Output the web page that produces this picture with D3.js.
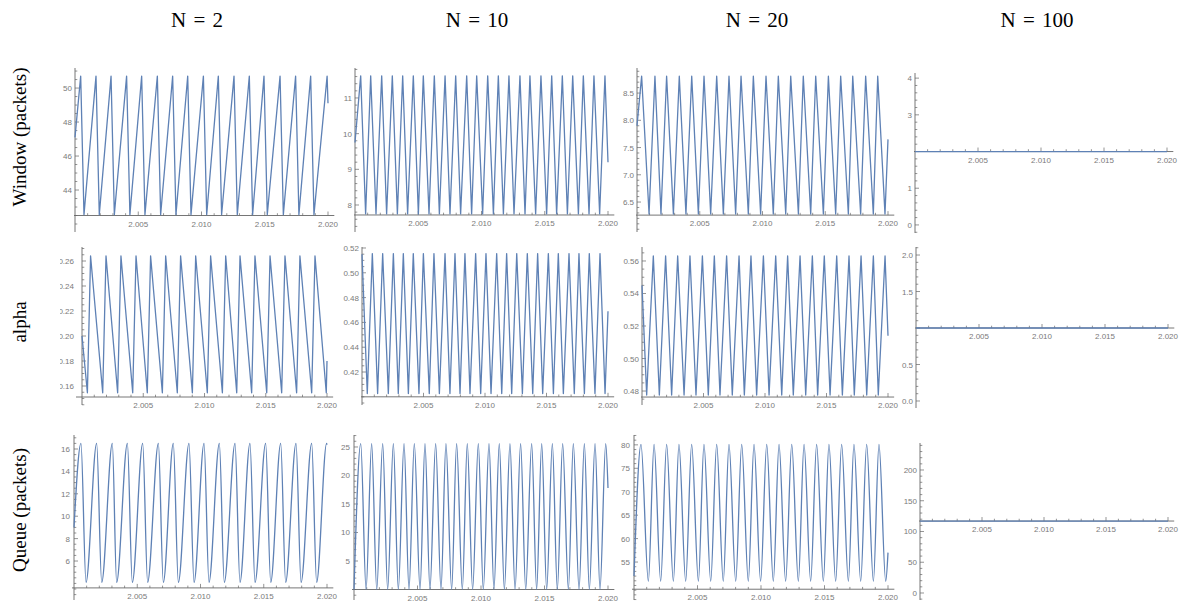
<!DOCTYPE html>
<html><head><meta charset="utf-8">
<script src="https://cdn.jsdelivr.net/npm/d3@7"></script>
<style>body{margin:0;background:#fff} svg{display:block}</style>
</head><body><svg id="c" width="1184" height="602"></svg>
<script>
const columnTitles = ["N = 2", "N = 10", "N = 20", "N = 100"];
const rowTitles = ["Window (packets)", "alpha", "Queue (packets)"];
const xTickValues = [2.005, 2.010, 2.015, 2.020];
const tStart = 2.0;   // seconds; times below are ms after tStart
const tEnd = 20;      // ms

// ---- Window ----
const win2Peaks   = [0.45, 1.66, 2.85, 4.08, 5.27, 6.51, 7.72, 8.91, 10.15, 11.33, 12.57, 13.78, 14.94, 16.21, 17.44, 18.63, 19.93];
const win2Troughs = [0.71, 1.92, 3.11, 4.34, 5.53, 6.77, 7.98, 9.17, 10.41, 11.59, 12.83, 14.04, 15.20, 16.47, 17.70, 18.89];
const win2Levels = [42.55, 50.7];
const win2Ends = [47.1, 49.1];
const win2YTicks = [44, 46, 48, 50];

const win10Peaks   = [0.45, 1.24, 2.11, 2.95, 3.77, 4.61, 5.40, 6.27, 7.12, 7.96, 8.83, 9.62, 10.49, 11.33, 12.17, 13.04, 13.83, 14.70, 15.55, 16.39, 17.21, 18.05, 18.89, 19.76];
const win10Troughs = [0.84, 1.66, 2.50, 3.35, 4.16, 5.01, 5.85, 6.67, 7.51, 8.35, 9.22, 10.09, 10.94, 11.73, 12.57, 13.44, 14.28, 15.15, 15.94, 16.79, 17.66, 18.50, 19.34];
const win10Levels = [7.75, 11.62];
const win10Ends = [9.75, 9.2];
const win10YTicks = [8, 9, 10, 11];

const win20Peaks   = [0.37, 1.43, 2.36, 3.37, 4.36, 5.34, 6.35, 7.33, 8.29, 9.27, 10.28, 11.26, 12.25, 13.25, 14.24, 15.25, 16.23, 17.19, 18.22, 19.18];
const win20Troughs = [0.96, 1.91, 2.90, 3.90, 4.89, 5.87, 6.88, 7.86, 8.87, 9.85, 10.86, 11.85, 12.86, 13.84, 14.85, 15.83, 16.84, 17.82, 18.83, 19.76];
const win20Levels = [6.28, 8.81];
const win20Ends = [7.9, 7.65];
const win20YTicks = [6.5, 7.0, 7.5, 8.0, 8.5];

const win100Peaks = [], win100Troughs = [];
const win100Levels = [2, 2];
const win100Ends = [2, 2];
const win100YTicks = [0, 1, 2, 3, 4];

// ---- alpha ----
const alpha2Peaks   = [0.70, 1.96, 3.18, 4.41, 5.60, 6.83, 8.05, 9.28, 10.50, 11.73, 12.90, 14.12, 15.35, 16.57, 17.79, 19.02];
const alpha2Troughs = [0.44, 1.69, 2.91, 4.14, 5.33, 6.56, 7.78, 9.01, 10.23, 11.46, 12.63, 13.85, 15.08, 16.30, 17.52, 18.75, 19.94];
const alpha2Levels = [0.1546, 0.264];
const alpha2Ends = [0.20, 0.18];
const alpha2YTicks = [0.16, 0.18, 0.20, 0.22, 0.24, 0.26];

const alpha10Peaks   = [0.84, 1.68, 2.55, 3.36, 4.17, 4.99, 5.85, 6.75, 7.56, 8.37, 9.24, 10.08, 10.95, 11.76, 12.58, 13.44, 14.28, 15.15, 15.96, 16.83, 17.64, 18.48, 19.35];
const alpha10Troughs = [0.43, 1.27, 2.14, 2.95, 3.77, 4.63, 5.47, 6.29, 7.15, 7.97, 8.78, 9.65, 10.49, 11.36, 12.17, 13.04, 13.88, 14.69, 15.56, 16.37, 17.26, 18.08, 18.94, 19.76];
const alpha10Levels = [0.4026, 0.5155];
const alpha10Ends = [0.515, 0.469];
const alpha10YTicks = [0.42, 0.44, 0.46, 0.48, 0.50, 0.52];

const alpha20Peaks   = [0.92, 1.92, 2.90, 3.90, 4.91, 5.88, 6.88, 7.89, 8.86, 9.87, 10.87, 11.84, 12.85, 13.85, 14.82, 15.83, 16.83, 17.81, 18.81, 19.76];
const alpha20Troughs = [0.38, 1.41, 2.41, 3.42, 4.39, 5.39, 6.34, 7.34, 8.32, 9.32, 10.33, 11.36, 12.30, 13.31, 14.28, 15.29, 16.29, 17.26, 18.27, 19.21];
const alpha20Levels = [0.4775, 0.5631];
const alpha20Ends = [0.545, 0.514];
const alpha20YTicks = [0.48, 0.50, 0.52, 0.54, 0.56];

const alpha100Peaks = [], alpha100Troughs = [];
const alpha100Levels = [1, 1];
const alpha100Ends = [1, 1];
const alpha100YTicks = [0.0, 0.5, 1.0, 1.5, 2.0];

// ---- Queue ----
const queue2Peaks   = [0.55, 1.79, 3.03, 4.22, 5.43, 6.67, 7.85, 9.09, 10.28, 11.49, 12.73, 13.91, 15.15, 16.34, 17.55, 18.79, 19.97];
const queue2Troughs = [0.95, 2.19, 3.37, 4.61, 5.82, 7.06, 8.25, 9.49, 10.67, 11.88, 13.12, 14.31, 15.55, 16.73, 17.95, 19.18];
const queue2Levels = [4.1, 16.5];
const queue2Ends = [9.0, 16.4];
const queue2YTicks = [6, 8, 10, 12, 14, 16];

const queue10Peaks   = [0.53, 1.39, 2.26, 3.10, 3.94, 4.75, 5.59, 6.43, 7.24, 8.08, 8.92, 9.79, 10.63, 11.44, 12.28, 13.12, 13.99, 14.78, 15.62, 16.43, 17.27, 18.14, 18.98, 19.82];
const queue10Troughs = [0.95, 1.79, 2.65, 3.49, 4.33, 5.20, 5.98, 6.85, 7.69, 8.53, 9.34, 10.18, 11.02, 11.84, 12.68, 13.52, 14.38, 15.17, 16.01, 16.88, 17.72, 18.53, 19.37];
const queue10Levels = [0.0, 25.6];
const queue10Ends = [0.0, 17.8];
const queue10YTicks = [5, 10, 15, 20, 25];

const queue20Peaks   = [0.55, 1.58, 2.57, 3.54, 4.54, 5.51, 6.51, 7.48, 8.48, 9.45, 10.45, 11.42, 12.42, 13.39, 14.38, 15.35, 16.35, 17.32, 18.32, 19.29];
const queue20Troughs = [1.13, 2.10, 3.10, 4.07, 5.07, 6.04, 7.03, 8.01, 9.00, 9.97, 10.97, 11.94, 12.94, 13.91, 14.91, 15.88, 16.88, 17.85, 18.85, 19.82];
const queue20Levels = [50.9, 80.1];
const queue20Ends = [52, 57];
const queue20YTicks = [55, 60, 65, 70, 75, 80];

const queue100Peaks = [], queue100Troughs = [];
const queue100Levels = [117, 117];
const queue100Ends = [117, 117];
const queue100YTicks = [0, 50, 100, 150, 200];

// ---- series table built from the arrays ----
const series = [
  [
    {peaks: win2Peaks, troughs: win2Troughs, levels: win2Levels, ends: win2Ends, ticks: win2YTicks, dec: 0, smooth: false},
    {peaks: win10Peaks, troughs: win10Troughs, levels: win10Levels, ends: win10Ends, ticks: win10YTicks, dec: 0, smooth: false},
    {peaks: win20Peaks, troughs: win20Troughs, levels: win20Levels, ends: win20Ends, ticks: win20YTicks, dec: 1, smooth: false},
    {peaks: win100Peaks, troughs: win100Troughs, levels: win100Levels, ends: win100Ends, ticks: win100YTicks, dec: 0, smooth: false}
  ],
  [
    {peaks: alpha2Peaks, troughs: alpha2Troughs, levels: alpha2Levels, ends: alpha2Ends, ticks: alpha2YTicks, dec: 2, smooth: false},
    {peaks: alpha10Peaks, troughs: alpha10Troughs, levels: alpha10Levels, ends: alpha10Ends, ticks: alpha10YTicks, dec: 2, smooth: false},
    {peaks: alpha20Peaks, troughs: alpha20Troughs, levels: alpha20Levels, ends: alpha20Ends, ticks: alpha20YTicks, dec: 2, smooth: false},
    {peaks: alpha100Peaks, troughs: alpha100Troughs, levels: alpha100Levels, ends: alpha100Ends, ticks: alpha100YTicks, dec: 1, smooth: false}
  ],
  [
    {peaks: queue2Peaks, troughs: queue2Troughs, levels: queue2Levels, ends: queue2Ends, ticks: queue2YTicks, dec: 0, smooth: true},
    {peaks: queue10Peaks, troughs: queue10Troughs, levels: queue10Levels, ends: queue10Ends, ticks: queue10YTicks, dec: 0, smooth: true},
    {peaks: queue20Peaks, troughs: queue20Troughs, levels: queue20Levels, ends: queue20Ends, ticks: queue20YTicks, dec: 0, smooth: true},
    {peaks: queue100Peaks, troughs: queue100Troughs, levels: queue100Levels, ends: queue100Ends, ticks: queue100YTicks, dec: 0, smooth: false}
  ]
];

// ---- layout (pixels) ----
const colX = [60, 340, 620, 900], colW = 280;
const rowTop = [40, 240, 420], rowH = [200, 180, 182];
const layout = [
  [ {left: 75,  x20: 328,  top: 68,  bottom: 232, lo: 41.53, hi: 51.18, axis: 42.5,  minor: 0.5,  pad: 1},
    {left: 355, x20: 608,  top: 68,  bottom: 232, lo: 7.243, hi: 11.84, axis: 7.72,  minor: 0.2,  pad: 1},
    {left: 637, x20: 888,  top: 68,  bottom: 232, lo: 5.95,  hi: 8.96,  axis: 6.26,  minor: 0.1,  pad: 1},
    {left: 915, x20: 1167, top: 73,  bottom: 233, lo: -0.22, hi: 4.14,  axis: 2,     minor: 0.2,  pad: 1} ],
  [ {left: 82,  x20: 327,  top: 247, bottom: 405, lo: 0.1448, hi: 0.2712, axis: 0.1512, minor: 0.005, pad: 6},
    {left: 362, x20: 608,  top: 247, bottom: 405, lo: 0.3934, hi: 0.5208, axis: 0.40,   minor: 0.005, pad: 1},
    {left: 642, x20: 888,  top: 247, bottom: 405, lo: 0.4714, hi: 0.5686, axis: 0.4763, minor: 0.005, pad: 1},
    {left: 916, x20: 1168, top: 247, bottom: 408, lo: -0.096, hi: 2.11,   axis: 1.0,    minor: 0.1,   pad: 1} ],
  [ {left: 74,  x20: 327,  top: 435, bottom: 600, lo: 2.52,  hi: 17.25, axis: 3.6,  minor: 0.5, pad: 2},
    {left: 354, x20: 608,  top: 435, bottom: 600, lo: -1.84, hi: 27.1,  axis: 0,    minor: 1,   pad: 2},
    {left: 634, x20: 888,  top: 435, bottom: 600, lo: 46.9,  hi: 82.1,  axis: 49.2, minor: 1,   pad: 2},
    {left: 920, x20: 1168, top: 443, bottom: 600, lo: -11.4, hi: 243.9, axis: 117,  minor: 10,  pad: 1} ]
];

const LINE = "#5E81B5", AXIS = "#666666", LABEL = "#7a7a7a";
const svg = d3.select("#c");

// titles
svg.selectAll("text.col").data(columnTitles).join("text")
  .attr("x", (d, i) => colX[i] + 137).attr("y", 27)
  .attr("text-anchor", "middle")
  .style("font-family", "'Liberation Serif', 'Times New Roman', serif")
  .style("font-size", "21px").style("word-spacing", "2px").attr("fill", "#000").text(d => d);

const rowCenters = [137, 322, 510];
svg.selectAll("text.row").data(rowTitles).join("text")
  .attr("transform", (d, i) => `translate(26,${rowCenters[i]}) rotate(-90)`)
  .attr("text-anchor", "middle")
  .style("font-family", "'Liberation Serif', 'Times New Roman', serif")
  .style("font-size", "19px").attr("fill", "#000").text(d => d);

function vertices(s) {
  const pts = [[0, s.ends[0]]]
    .concat(s.peaks.map(t => [t, s.levels[1]]))
    .concat(s.troughs.map(t => [t, s.levels[0]]))
    .concat([[tEnd, s.ends[1]]]);
  pts.sort((a, b) => a[0] - b[0]);
  return pts.map(([t, v]) => [tStart + t / 1000, v]);
}

const defs = svg.append("defs");

series.forEach((row, r) => row.forEach((s, c) => {
  const L = layout[r][c];
  const id = `clip${r}${c}`;
  defs.append("clipPath").attr("id", id).append("rect")
    .attr("x", colX[c]).attr("y", rowTop[r]).attr("width", colW).attr("height", rowH[r]);
  const g = svg.append("g").attr("clip-path", `url(#${id})`);

  const right = L.left + (L.x20 - L.left) * 20.5 / 20;
  const x = d3.scaleLinear().domain([tStart, tStart + 0.0205]).range([L.left, right]);
  const y = d3.scaleLinear().domain([L.lo, L.hi]).range([L.bottom, L.top]);
  const ay = y(L.axis);

  // x minor & major ticks
  const xMinor = d3.range(1, 21).map(k => tStart + k / 1000);
  g.selectAll("line.xt").data(xMinor).join("line")
    .attr("x1", d => x(d)).attr("x2", d => x(d))
    .attr("y1", ay).attr("y2", d => ay - (xTickValues.some(v => Math.abs(v - d) < 1e-9) ? 4 : 2.3))
    .attr("stroke", AXIS).attr("stroke-width", 0.7);
  g.selectAll("text.xl").data(xTickValues).join("text")
    .attr("x", d => x(d)).attr("y", ay + 11)
    .attr("text-anchor", "middle")
    .style("font-family", "'Liberation Sans', Arial, sans-serif").style("font-size", "8px")
    .attr("fill", LABEL).text(d => d3.format(".3f")(d));

  // y minor & major ticks
  const yMinor = [];
  for (let v = Math.ceil(L.lo / L.minor - 1e-6) * L.minor; v <= L.hi + 1e-9; v += L.minor) yMinor.push(+v.toFixed(6));
  const isMajor = v => s.ticks.some(t => Math.abs(t - v) < L.minor / 10);
  g.selectAll("line.yt").data(yMinor).join("line")
    .attr("x1", L.left).attr("x2", d => L.left + (isMajor(d) ? 4 : 2.3))
    .attr("y1", d => y(d)).attr("y2", d => y(d))
    .attr("stroke", AXIS).attr("stroke-width", 0.7);
  g.selectAll("text.yl").data(s.ticks.filter(t => Math.abs(t - L.axis) > 1e-9)).join("text")
    .attr("x", L.left - L.pad - 2).attr("y", d => y(d) + 3)
    .attr("text-anchor", "end")
    .style("font-family", "'Liberation Sans', Arial, sans-serif").style("font-size", "8px")
    .attr("fill", LABEL).text(d => d.toFixed(s.dec));

  // axes lines
  g.append("line").attr("x1", L.left).attr("x2", L.left).attr("y1", L.top).attr("y2", L.bottom)
    .attr("stroke", AXIS).attr("stroke-width", 0.9);
  g.append("line").attr("x1", L.left - L.pad).attr("x2", right).attr("y1", ay).attr("y2", ay)
    .attr("stroke", AXIS).attr("stroke-width", 0.9);

  // data
  const line = d3.line().x(d => x(d[0])).y(d => y(d[1]))
    .curve(s.smooth ? d3.curveMonotoneX : d3.curveLinear);
  g.append("path").datum(vertices(s)).attr("d", line)
    .attr("fill", "none").attr("stroke", LINE).attr("stroke-width", 1.3)
    .attr("stroke-linejoin", "round");
}));
</script></body></html>
